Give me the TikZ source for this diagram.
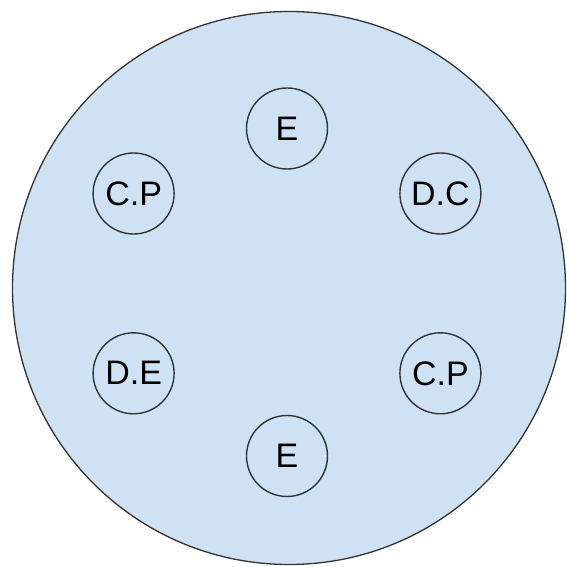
\documentclass[tikz,border=0pt]{standalone}
\usepackage{fontspec}
\setmainfont{Liberation Sans}
\definecolor{bgblue}{HTML}{CFE2F3}
\definecolor{edge}{HTML}{333333}
\begin{document}
\begin{tikzpicture}[x=1pt,y=1pt,
  small/.style={circle,draw=edge,line width=1.4pt,minimum size=81pt,inner sep=0pt,font=\fontsize{34}{34}\selectfont}]
\useasboundingbox (0,0) rectangle (566,567);
\node[circle,draw=edge,fill=bgblue,line width=1.3pt,minimum size=553pt,inner sep=0pt] (big) at (289,279) {};
\node[small] (e1) at (287,438.5) {E};
\node[small] (cp1) at (133.6,373.5) {C.P};
\node[small] (dc) at (440.4,373.5) {D.C};
\node[small] (de) at (133.6,193.7) {D.E};
\node[small] (cp2) at (440.4,193.7) {C.P};
\node[small] (e2) at (287,111) {E};
\end{tikzpicture}
\end{document}
